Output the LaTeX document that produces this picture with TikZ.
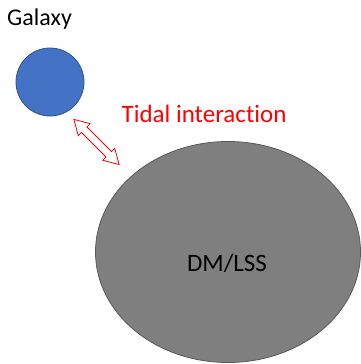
\documentclass[tikz,border=0pt]{standalone}
\usepackage{fontspec}
\setmainfont{Carlito}[Ligatures={NoCommon,NoRare}]
\usetikzlibrary{shapes.geometric,shapes.arrows}
\definecolor{galaxyBlue}{RGB}{68,114,196}
\definecolor{galaxyEdge}{RGB}{47,82,143}
\definecolor{haloGray}{RGB}{127,127,127}
\definecolor{haloEdge}{RGB}{89,89,89}

\begin{document}
\begin{tikzpicture}[x=1pt, y=-1pt]
    % Define styles
    \tikzstyle{galaxy} = [circle, draw=galaxyEdge, fill=galaxyBlue, line width=0.8pt, minimum size=68pt, inner sep=0pt]
    \tikzstyle{halo} = [ellipse, draw=haloEdge, fill=haloGray, line width=0.8pt, minimum width=265pt, minimum height=221pt, inner sep=0pt]
    \tikzstyle{tidal} = [double arrow, draw=red, fill=white, line width=0.8pt, minimum height=64pt, text height=3.5pt, text depth=3.5pt, text width=0pt, double arrow head extend=4.5pt, double arrow tip angle=60, inner sep=0pt, rotate=-45]
    \tikzstyle{heading} = [inner sep=0pt, anchor=base west, font=\fontsize{24}{28}\selectfont]

    \useasboundingbox (0,0) rectangle (361,364);

    % Galaxy and its dark matter host
    \node [galaxy] (gal) at (50,82) {};
    \node [halo] (dm) at (228,252) {};
    \node [inner sep=0pt, anchor=base, font=\fontsize{25}{30}\selectfont] (dmtext) at (227,271.5) {DM/LSS};

    % Labels
    \node [heading] (galtext) at (7,25.5) {Galaxy};
    \node [heading, red, font=\fontsize{25}{30}\selectfont] (tidaltext) at (121.5,122.5) {Tidal interaction};

    % Interaction arrow
    \node [tidal] (link) at (96.5,142) {};
\end{tikzpicture}
\end{document}
